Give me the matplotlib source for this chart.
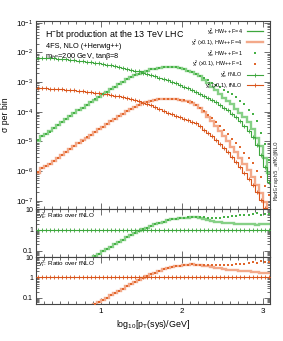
import numpy as np
import matplotlib
matplotlib.use("Agg")
import matplotlib.pyplot as plt
from matplotlib.lines import Line2D
from matplotlib.ticker import LogLocator, FixedLocator, FixedFormatter, MultipleLocator, NullFormatter

plt.rcParams['font.family'] = ['Liberation Sans', 'DejaVu Sans']
plt.rcParams['mathtext.fontset'] = 'custom'
plt.rcParams['mathtext.rm'] = 'Liberation Sans'
plt.rcParams['mathtext.it'] = 'Liberation Sans:italic'

# bin edges in log10[pT(sys)/GeV]
edges = np.round(np.arange(0.2, 3.1001, 0.05), 2)

# yb^2, fixed NLO
yb_fnlo = [6.76e-3, 6.61e-3, 6.46e-3, 6.31e-3, 6.31e-3, 6.17e-3, 6.03e-3, 5.89e-3, 5.62e-3, 5.50e-3,
           5.25e-3, 5.13e-3, 4.90e-3, 4.68e-3, 4.57e-3, 4.37e-3, 4.17e-3, 3.89e-3, 3.72e-3, 3.47e-3,
           3.31e-3, 3.09e-3, 2.82e-3, 2.63e-3, 2.45e-3, 2.29e-3, 2.09e-3, 1.95e-3, 1.78e-3, 1.58e-3,
           1.41e-3, 1.26e-3, 1.15e-3, 1.02e-3, 9.12e-4, 8.13e-4, 7.08e-4, 6.17e-4, 5.50e-4, 4.79e-4,
           4.07e-4, 3.47e-4, 2.95e-4, 2.51e-4, 2.09e-4, 1.70e-4, 1.38e-4, 1.12e-4, 8.71e-5, 6.46e-5,
           4.79e-5, 3.39e-5, 2.24e-5, 1.41e-5, 7.76e-6, 3.63e-6, 1.41e-6, 4.47e-7]
# yb^2, HW++ F=4
yb_hw4 = [1.07e-5, 1.58e-5, 1.74e-5, 2.19e-5, 2.80e-5, 3.60e-5, 4.60e-5, 5.75e-5, 7.20e-5, 8.90e-5,
          1.12e-4, 1.38e-4, 1.72e-4, 2.10e-4, 2.57e-4, 3.14e-4, 3.84e-4, 4.68e-4, 5.70e-4, 6.98e-4,
          8.55e-4, 1.02e-3, 1.23e-3, 1.45e-3, 1.70e-3, 1.95e-3, 2.19e-3, 2.45e-3, 2.69e-3, 2.88e-3,
          3.02e-3, 3.16e-3, 3.24e-3, 3.24e-3, 3.16e-3, 3.02e-3, 2.69e-3, 2.40e-3, 2.19e-3, 1.91e-3,
          1.55e-3, 1.20e-3, 9.12e-4, 6.92e-4, 5.25e-4, 3.98e-4, 3.02e-4, 2.34e-4, 1.78e-4, 1.29e-4,
          9.33e-5, 6.46e-5, 4.47e-5, 2.69e-5, 1.29e-5, 6.92e-6, 2.69e-6, 8.51e-7]
# yb^2, HW++ F=1
yb_hw1 = [1.10e-5, 1.55e-5, 1.78e-5, 2.15e-5, 2.85e-5, 3.55e-5, 4.68e-5, 5.68e-5, 7.30e-5, 8.80e-5,
          1.13e-4, 1.36e-4, 1.74e-4, 2.08e-4, 2.60e-4, 3.11e-4, 3.88e-4, 4.63e-4, 5.76e-4, 6.90e-4,
          8.64e-4, 1.01e-3, 1.24e-3, 1.44e-3, 1.72e-3, 1.93e-3, 2.21e-3, 2.43e-3, 2.71e-3, 2.86e-3,
          3.04e-3, 3.14e-3, 3.26e-3, 3.22e-3, 3.18e-3, 3.00e-3, 2.71e-3, 2.42e-3, 2.20e-3, 1.95e-3,
          1.62e-3, 1.38e-3, 1.15e-3, 9.55e-4, 7.94e-4, 6.61e-4, 5.50e-4, 4.68e-4, 3.89e-4, 3.09e-4,
          2.40e-4, 1.78e-4, 1.17e-4, 8.13e-5, 4.90e-5, 1.91e-5, 8.13e-6, 2.45e-6]
# yt^2 (x0.1), fixed NLO
yt_fnlo = [6.31e-4, 6.17e-4, 6.17e-4, 6.03e-4, 6.03e-4, 5.89e-4, 5.75e-4, 5.62e-4, 5.50e-4, 5.25e-4,
           5.13e-4, 5.01e-4, 4.79e-4, 4.57e-4, 4.37e-4, 4.27e-4, 4.07e-4, 3.89e-4, 3.63e-4, 3.47e-4,
           3.31e-4, 3.09e-4, 2.88e-4, 2.69e-4, 2.51e-4, 2.29e-4, 2.04e-4, 1.86e-4, 1.66e-4, 1.45e-4,
           1.23e-4, 1.07e-4, 9.33e-5, 8.32e-5, 7.41e-5, 6.61e-5, 5.89e-5, 5.25e-5, 4.68e-5, 4.07e-5,
           3.31e-5, 2.51e-5, 1.95e-5, 1.51e-5, 1.12e-5, 8.32e-6, 6.03e-6, 4.27e-6, 2.95e-6, 2.00e-6,
           1.35e-6, 8.71e-7, 5.50e-7, 3.31e-7, 1.91e-7, 1.07e-7, 5.62e-8, 2.82e-8]
# yt^2 (x0.1), HW++ F=4
yt_hw4 = [8.91e-7, 1.32e-6, 1.45e-6, 1.80e-6, 2.25e-6, 2.85e-6, 3.55e-6, 4.50e-6, 5.60e-6, 7.05e-6,
          8.70e-6, 1.09e-5, 1.35e-5, 1.68e-5, 2.07e-5, 2.58e-5, 3.15e-5, 3.92e-5, 4.80e-5, 5.85e-5,
          7.15e-5, 8.75e-5, 1.05e-4, 1.26e-4, 1.48e-4, 1.70e-4, 1.91e-4, 2.14e-4, 2.34e-4, 2.51e-4,
          2.63e-4, 2.69e-4, 2.75e-4, 2.75e-4, 2.63e-4, 2.51e-4, 2.40e-4, 2.24e-4, 2.04e-4, 1.70e-4,
          1.35e-4, 9.55e-5, 6.92e-5, 4.90e-5, 3.31e-5, 2.29e-5, 1.55e-5, 1.02e-5, 6.76e-6, 4.37e-6,
          2.88e-6, 1.74e-6, 1.10e-6, 6.31e-7, 3.47e-7, 1.82e-7, 9.12e-8, 4.47e-8]
# yt^2 (x0.1), HW++ F=1
yt_hw1 = [9.10e-7, 1.30e-6, 1.48e-6, 1.77e-6, 2.28e-6, 2.80e-6, 3.62e-6, 4.42e-6, 5.70e-6, 6.95e-6,
          8.85e-6, 1.07e-5, 1.37e-5, 1.66e-5, 2.10e-5, 2.55e-5, 3.19e-5, 3.87e-5, 4.86e-5, 5.78e-5,
          7.22e-5, 8.64e-5, 1.06e-4, 1.25e-4, 1.50e-4, 1.68e-4, 1.93e-4, 2.12e-4, 2.36e-4, 2.49e-4,
          2.65e-4, 2.67e-4, 2.77e-4, 2.73e-4, 2.65e-4, 2.49e-4, 2.42e-4, 2.22e-4, 2.06e-4, 1.74e-4,
          1.32e-4, 1.05e-4, 7.94e-5, 6.03e-5, 4.47e-5, 3.39e-5, 2.45e-5, 1.78e-5, 1.26e-5, 9.12e-6,
          6.46e-6, 3.98e-6, 2.75e-6, 1.82e-6, 1.00e-6, 6.46e-7, 3.24e-7, 1.55e-7]

labels = ["y$_b^2$, HW++ F=4", "y$_t^2$ (x0.1), HW++ F=4",
          "y$_b^2$, HW++ F=1", "y$_t^2$ (x0.1), HW++ F=1",
          "y$_b^2$, fNLO", "y$_t^2$ (x0.1), fNLO"]

centers = 0.5 * (edges[:-1] + edges[1:])

G_DARK = '#3da63d'
G_LIGHT = '#86d086'
G_SQ = '#45b045'
O_DARK = '#d9541a'
O_LIGHT = '#f3a98a'
O_SQ = '#e0662c'

fig = plt.figure(figsize=(2.83, 3.41), dpi=100)
L, W = 36 / 283, 234 / 283
ax = fig.add_axes([L, (341 - 209) / 341, W, 188 / 341])
r1 = fig.add_axes([L, (341 - 257) / 341, W, 48 / 341], sharex=ax)
r2 = fig.add_axes([L, (341 - 304) / 341, W, 47 / 341], sharex=ax)


def draw_set(a, fnlo, hw4, hw1, dark, light, sq, ratio=False):
    fnlo = np.asarray(fnlo); hw4 = np.asarray(hw4); hw1 = np.asarray(hw1)
    if ratio:
        f, h4, h1 = fnlo / fnlo, hw4 / fnlo, hw1 / fnlo
    else:
        f, h4, h1 = fnlo, hw4, hw1
    a.stairs(h4, edges, color=light, lw=1.7, baseline=None, zorder=2)
    a.stairs(f, edges, color=dark, lw=0.8, baseline=None, zorder=3)
    a.plot(centers, f, ls='none', marker='+', ms=2.2, mew=0.6, color=dark, zorder=4)
    a.plot(centers, h1, ls='none', marker='s', ms=1.6, mew=0, color=sq, zorder=5)


draw_set(ax, yb_fnlo, yb_hw4, yb_hw1, G_DARK, G_LIGHT, G_SQ)
draw_set(ax, yt_fnlo, yt_hw4, yt_hw1, O_DARK, O_LIGHT, O_SQ)
draw_set(r1, yb_fnlo, yb_hw4, yb_hw1, G_DARK, G_LIGHT, G_SQ, ratio=True)
draw_set(r2, yt_fnlo, yt_hw4, yt_hw1, O_DARK, O_LIGHT, O_SQ, ratio=True)

ax.set_yscale('log')
ax.set_ylim(5.3e-8, 0.115)
ax.set_xlim(0.2, 3.09)
ax.yaxis.set_major_locator(LogLocator(base=10, numticks=20))
ax.yaxis.set_minor_locator(LogLocator(base=10, subs=np.arange(2, 10), numticks=20))
ax.yaxis.set_minor_formatter(NullFormatter())

for r in (r1, r2):
    r.set_yscale('log')
    r.set_ylim(0.05, 10)
    r.yaxis.set_major_locator(FixedLocator([0.1, 1, 10]))
    r.yaxis.set_major_formatter(FixedFormatter(['0.1', '1', '10']))
    r.yaxis.set_minor_locator(LogLocator(base=10, subs=np.arange(2, 10), numticks=20))
    r.yaxis.set_minor_formatter(NullFormatter())

for a in (ax, r1, r2):
    a.xaxis.set_major_locator(MultipleLocator(1))
    a.xaxis.set_minor_locator(MultipleLocator(0.1))
    a.tick_params(which='both', direction='in', top=True, right=True, labelsize=5.8,
                  width=0.5, colors='#333333', labelcolor='black')
    a.tick_params(which='major', length=4)
    a.tick_params(which='minor', length=2)
    a.tick_params(axis='y', pad=2)
    for s in a.spines.values():
        s.set_linewidth(0.8)
        s.set_color('#444444')
for r in (r1, r2):
    r.tick_params(axis='y', labelsize=5.1)
ax.tick_params(labelbottom=False)
r1.tick_params(labelbottom=False)
r2.tick_params(axis='x', pad=3)

# legend (styling proxies)
handles = [Line2D([], [], color=G_DARK, lw=0.9),
           Line2D([], [], color=O_LIGHT, lw=1.7),
           Line2D([], [], ls='none', marker='s', ms=1.6, mew=0, color=G_SQ),
           Line2D([], [], ls='none', marker='s', ms=1.6, mew=0, color=O_SQ),
           Line2D([], [], color=G_DARK, lw=0.8, marker='+', ms=2.2, mew=0.6),
           Line2D([], [], color=O_DARK, lw=0.8, marker='+', ms=2.2, mew=0.6)]
ax.legend(handles, labels, loc='upper right', bbox_to_anchor=(0.985, 0.99), frameon=False,
          markerfirst=False, fontsize=3.9, handlelength=3.0, labelspacing=0.0,
          handletextpad=0.8, borderpad=0.1, handleheight=0.5)

ax.text(0.038, 0.93, "H$^{-}$bt production at the 13 TeV LHC", transform=ax.transAxes,
        fontsize=6.4, va='center', ha='left')
ax.text(0.042, 0.862, "4FS, NLO (+Herwig++)", transform=ax.transAxes,
        fontsize=5.3, va='center', ha='left')
ax.text(0.038, 0.812, "m$_{H^{\\pm}}$=200 GeV, tan\u03b2=8", transform=ax.transAxes,
        fontsize=5.3, va='center', ha='left')
ax.set_ylabel("\u03c3 per bin", fontsize=6.2, labelpad=4)

r1.text(0.01, 0.86, "y$_b^2$: Ratio over fNLO", transform=r1.transAxes, fontsize=4.6,
        va='center', ha='left')
r2.text(0.01, 0.86, "y$_t^2$: Ratio over fNLO", transform=r2.transAxes, fontsize=4.6,
        va='center', ha='left')
r2.set_xlabel("log$_{10}$[p$_{\\rm T}$(sys)/GeV]", fontsize=6.4, labelpad=2)

fig.text(0.976, 0.50, "MadGraph5_aMC@NLO", rotation=90, fontsize=4.2, va='center', ha='center',
         family='DejaVu Sans Mono', color='#333333')

fig.savefig("out.png", dpi=100)
